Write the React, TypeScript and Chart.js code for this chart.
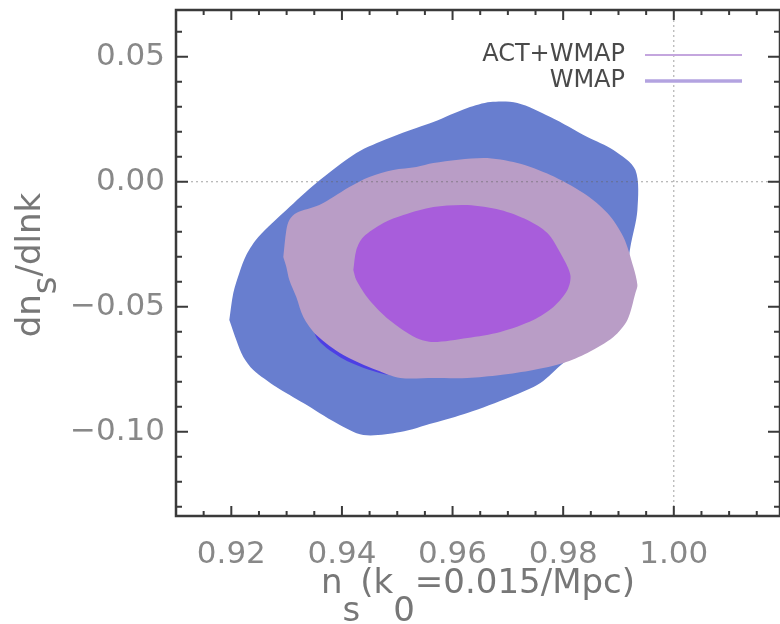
import React, { useEffect, useRef } from 'react';
import { Chart, registerables } from 'chart.js';

Chart.register(...registerables);

// ---- axis ranges & ticks ----
const X_MIN = 0.91;
const X_MAX = 1.0192;
const Y_MIN = -0.1337;
const Y_MAX = 0.0687;
const xTickValues = [0.92, 0.94, 0.96, 0.98, 1.0];
const yTickValues = [-0.1, -0.05, 0.0, 0.05];
const xMinorStep = 0.005;
const yMinorStep = 0.01;

// ---- legend ----
const legendLabels = ['ACT+WMAP', 'WMAP'];
const legendColors = ['#c4a6de', '#b3a3e0'];
const legendWidths = [2, 3.5];

// ---- titles ----
const xTitleParts = [
  { t: 'n', sub: false },
  { t: 's', sub: true },
  { t: '(k', sub: false },
  { t: '0', sub: true },
  { t: '=0.015/Mpc)', sub: false },
];
const yTitleParts = [
  { t: 'dn', sub: false },
  { t: 's', sub: true },
  { t: '/dlnk', sub: false },
];

// ---- contours (n_s, dn_s/dlnk) ----
const wmapOuterX = [0.91964, 0.92036, 0.92145, 0.92271, 0.92488, 0.92995, 0.93537, 0.9426, 0.94857, 0.95345, 0.95653, 0.96268, 0.96684, 0.97172, 0.97769, 0.98438, 0.98908, 0.99306, 0.99342, 0.99215, 0.99179, 0.99071, 0.98854, 0.98492, 0.98004, 0.97588, 0.97045, 0.96268, 0.95653, 0.95056, 0.94387, 0.93899, 0.93302, 0.92814, 0.92398, 0.92217, 0.9209, 0.91964];
const wmapOuterY = [-0.0553, -0.0445, -0.0365, -0.0293, -0.0221, -0.0113, -0.0005, 0.0115, 0.0175, 0.0215, 0.0239, 0.0295, 0.0319, 0.0315, 0.0259, 0.0179, 0.0127, 0.0047, -0.0113, -0.0261, -0.0313, -0.0433, -0.0553, -0.0653, -0.0725, -0.0805, -0.0861, -0.0925, -0.0965, -0.1001, -0.1013, -0.0965, -0.0885, -0.0821, -0.0753, -0.0701, -0.0633, -0.0553];

const wmapInnerX = [0.93429, 0.93248, 0.93248, 0.93519, 0.94152, 0.95056, 0.9596, 0.96864, 0.97769, 0.98401, 0.98673, 0.98582, 0.98221, 0.97588, 0.96684, 0.95779, 0.95056, 0.94622, 0.94025, 0.93571, 0.93429];
const wmapInnerY = [-0.0553, -0.0433, -0.0273, -0.0173, -0.0093, -0.0053, -0.0033, -0.0053, -0.0113, -0.0233, -0.0353, -0.0473, -0.0573, -0.0653, -0.0713, -0.0753, -0.0777, -0.0761, -0.0709, -0.0633, -0.0553];

const actOuterX = [0.9294, 0.92995, 0.93049, 0.93175, 0.93591, 0.93844, 0.94134, 0.94495, 0.94929, 0.95345, 0.95653, 0.96557, 0.97172, 0.97769, 0.98365, 0.98799, 0.99089, 0.99269, 0.99342, 0.99306, 0.99161, 0.98908, 0.98438, 0.98004, 0.97461, 0.96864, 0.96268, 0.95653, 0.95056, 0.94622, 0.94025, 0.93537, 0.93302, 0.93175, 0.93049, 0.92995, 0.9294];
const actOuterY = [-0.0301, -0.0193, -0.0153, -0.0125, -0.0093, -0.0061, -0.0021, 0.0019, 0.0047, 0.0059, 0.0075, 0.0095, 0.0075, 0.0027, -0.0045, -0.0125, -0.0221, -0.0341, -0.0413, -0.0445, -0.0553, -0.0621, -0.0685, -0.0725, -0.0753, -0.0773, -0.0785, -0.0785, -0.0785, -0.0753, -0.0693, -0.0613, -0.0541, -0.0461, -0.0393, -0.0341, -0.0301];

const actInnerX = [0.94206, 0.9426, 0.94387, 0.94749, 0.9511, 0.95653, 0.96268, 0.96864, 0.97353, 0.97714, 0.97949, 0.9813, 0.98076, 0.97823, 0.97461, 0.96864, 0.96268, 0.95653, 0.95345, 0.94857, 0.94495, 0.9426, 0.94206];
const actInnerY = [-0.0353, -0.0273, -0.0221, -0.0165, -0.0133, -0.0101, -0.0093, -0.0113, -0.0153, -0.0205, -0.0285, -0.0373, -0.0433, -0.0501, -0.0553, -0.0601, -0.0625, -0.0641, -0.0625, -0.0553, -0.0473, -0.0393, -0.0353];

const zip = (xs: number[], ys: number[]) => xs.map((x, i) => ({ x, y: ys[i] }));

const fmt = (v: number) => {
  const s = Math.abs(v).toFixed(2);
  return v < -1e-9 ? '\u2212' + s : s;
};

const FONT = "'DejaVu Sans', 'Liberation Sans', sans-serif";

const decorPlugin = {
  id: 'decor',
  afterDatasetsDraw(chart: any) {
    const { ctx, chartArea: a, scales } = chart;
    const xs = scales.x;
    const ys = scales.y;
    ctx.save();

    // dotted reference lines
    ctx.setLineDash([2, 3]);
    ctx.strokeStyle = 'rgba(100,100,100,0.6)';
    ctx.lineWidth = 1;
    const y0 = ys.getPixelForValue(0);
    ctx.beginPath();
    ctx.moveTo(a.left, y0);
    ctx.lineTo(a.right, y0);
    ctx.stroke();
    const x1 = xs.getPixelForValue(1.0);
    ctx.beginPath();
    ctx.moveTo(x1, a.top);
    ctx.lineTo(x1, a.bottom);
    ctx.stroke();
    ctx.setLineDash([]);

    // legend
    ctx.font = `24px ${FONT}`;
    ctx.textAlign = 'right';
    ctx.textBaseline = 'middle';
    legendLabels.forEach((lab, i) => {
      const ly = a.top + 45 + i * 26;
      ctx.fillStyle = '#4a4a4a';
      ctx.fillText(lab, a.left + 449, ly);
      ctx.strokeStyle = legendColors[i];
      ctx.lineWidth = legendWidths[i];
      ctx.beginPath();
      ctx.moveTo(a.left + 469, ly);
      ctx.lineTo(a.left + 566, ly);
      ctx.stroke();
    });

    // frame
    ctx.strokeStyle = '#3a3a3a';
    ctx.lineWidth = 2.5;
    ctx.strokeRect(a.left, a.top, a.right - a.left, a.bottom - a.top);

    // ticks (inward)
    ctx.lineWidth = 2;
    const isMajor = (v: number, arr: number[]) => arr.some((t) => Math.abs(t - v) < 1e-6);
    for (let v = X_MIN; v <= X_MAX + 1e-9; v += xMinorStep) {
      const vv = Math.round(v * 1000) / 1000;
      if (vv <= X_MIN + 1e-9) continue;
      const px = xs.getPixelForValue(vv);
      const len = isMajor(vv, xTickValues) ? 10 : 5;
      ctx.beginPath();
      ctx.moveTo(px, a.bottom);
      ctx.lineTo(px, a.bottom - len);
      ctx.moveTo(px, a.top);
      ctx.lineTo(px, a.top + len);
      ctx.stroke();
    }
    for (let v = -0.13; v <= Y_MAX + 1e-9; v += yMinorStep) {
      const vv = Math.round(v * 100) / 100;
      const py = ys.getPixelForValue(vv);
      const len = isMajor(vv, yTickValues) ? 12 : 6;
      ctx.beginPath();
      ctx.moveTo(a.left, py);
      ctx.lineTo(a.left + len, py);
      ctx.moveTo(a.right, py);
      ctx.lineTo(a.right - len, py);
      ctx.stroke();
    }

    // x title
    ctx.fillStyle = '#777777';
    ctx.font = `34px ${FONT}`;
    ctx.textAlign = 'left';
    ctx.textBaseline = 'alphabetic';
    const xw = xTitleParts.reduce((s, p) => s + ctx.measureText(p.t).width, 0);
    let cx = (a.left + a.right) / 2 - xw / 2;
    const baseX = a.bottom + 77;
    xTitleParts.forEach((p) => {
      ctx.fillText(p.t, cx, p.sub ? baseX + 28 : baseX);
      cx += ctx.measureText(p.t).width;
    });

    // y title (rotated)
    ctx.save();
    ctx.translate(40, (a.top + a.bottom) / 2 + 2);
    ctx.rotate(-Math.PI / 2);
    ctx.font = `34px ${FONT}`;
    const yw = yTitleParts.reduce((s, p) => s + ctx.measureText(p.t).width, 0);
    let cy = -yw / 2;
    yTitleParts.forEach((p) => {
      ctx.fillText(p.t, cy, p.sub ? 16 : 0);
      cy += ctx.measureText(p.t).width;
    });
    ctx.restore();

    ctx.restore();
  },
};

export default function App() {
  const ref = useRef<HTMLCanvasElement | null>(null);

  useEffect(() => {
    if (!ref.current) return;
    const mk = (label: string, xs: number[], ys: number[], color: string, order: number) => ({
      label,
      data: zip(xs, ys),
      backgroundColor: color,
      borderColor: color,
      borderWidth: 0,
      pointRadius: 0,
      pointHoverRadius: 0,
      fill: 'shape',
      tension: 0.3,
      order,
    });
    const chart = new Chart(ref.current, {
      type: 'line',
      data: {
        datasets: [
          mk('ACT+WMAP 68%', actInnerX, actInnerY, '#a85ddb', 0),
          mk('ACT+WMAP 95%', actOuterX, actOuterY, '#b99dc6', 1),
          mk('WMAP 68%', wmapInnerX, wmapInnerY, '#4d3fe4', 2),
          mk('WMAP 95%', wmapOuterX, wmapOuterY, '#687ecf', 3),
        ] as any,
      },
      options: {
        animation: false,
        responsive: false,
        maintainAspectRatio: false,
        layout: { padding: { left: 0, right: 0, top: 10, bottom: 0 } },
        plugins: {
          legend: { display: false },
          tooltip: { enabled: false },
        },
        scales: {
          x: {
            type: 'linear',
            min: X_MIN,
            max: X_MAX,
            grid: { display: false, drawTicks: false },
            border: { display: false },
            afterBuildTicks: (s: any) => {
              s.ticks = xTickValues.map((v) => ({ value: v }));
            },
            afterFit: (s: any) => {
              s.height = 108;
              s.paddingLeft = 0;
              s.paddingRight = 0;
            },
            ticks: {
              padding: 20,
              autoSkip: false,
              maxRotation: 0,
              color: '#888888',
              font: { family: FONT, size: 31 },
              callback: (v: any) => fmt(Number(v)),
            },
          },
          y: {
            type: 'linear',
            min: Y_MIN,
            max: Y_MAX,
            grid: { display: false, drawTicks: false },
            border: { display: false },
            afterBuildTicks: (s: any) => {
              s.ticks = yTickValues.map((v) => ({ value: v }));
            },
            afterFit: (s: any) => {
              s.width = 176;
              s.paddingTop = 0;
              s.paddingBottom = 0;
            },
            ticks: {
              padding: 11,
              autoSkip: false,
              color: '#888888',
              font: { family: FONT, size: 31 },
              callback: (v: any) => fmt(Number(v)),
            },
          },
        },
      } as any,
      plugins: [decorPlugin],
    });
    return () => chart.destroy();
  }, []);

  return (
    <div style={{ position: 'fixed', left: 0, top: 0, width: 780, height: 624, background: '#fff' }}>
      <canvas ref={ref} width={780} height={624} style={{ width: 780, height: 624, display: 'block' }} />
    </div>
  );
}
